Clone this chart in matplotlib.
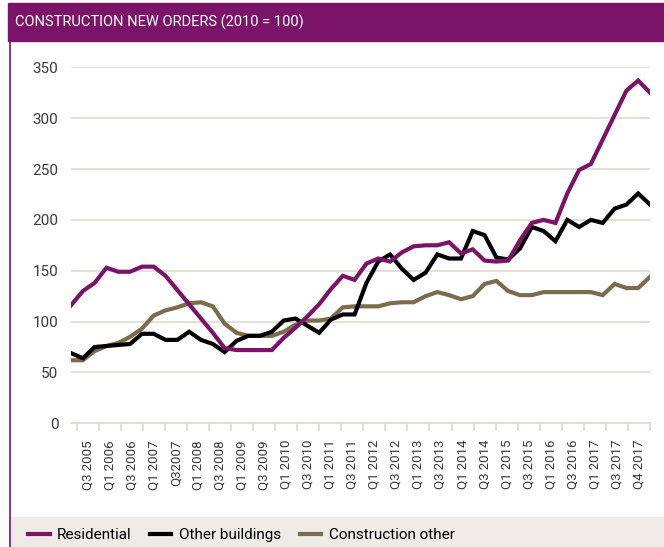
import numpy as np
import matplotlib
matplotlib.use("Agg")
import matplotlib.pyplot as plt
from matplotlib.patches import Rectangle
from matplotlib.lines import Line2D

plt.rcParams['font.family'] = ['Roboto', 'DejaVu Sans']

# quarterly index values, Q3 2005 .. Q4 2017
residential = [116, 130, 138, 153, 149, 149, 154, 154, 145, 131,
               117, 103, 89, 74, 72, 72, 72, 72, 84, 94,
               105, 117, 132, 145, 141, 157, 162, 159, 168, 174,
               175, 175, 178, 167, 171, 160, 159, 160, 180, 197,
               200, 197, 226, 249, 255, 279, 303, 327, 337, 325]
other_buildings = [69, 64, 75, 76, 77, 78, 88, 88, 82, 82,
                   90, 82, 78, 70, 81, 86, 86, 90, 101, 103,
                   96, 89, 102, 107, 107, 138, 159, 166, 152, 141,
                   148, 166, 162, 162, 189, 185, 163, 161, 172, 193,
                   189, 179, 200, 193, 200, 197, 211, 215, 226, 215]
construction_other = [62, 62, 71, 76, 79, 85, 93, 106, 111, 114,
                      118, 119, 115, 98, 89, 86, 86, 86, 90, 97,
                      101, 101, 103, 114, 115, 115, 115, 118, 119, 119,
                      125, 129, 126, 122, 125, 137, 140, 130, 126, 126,
                      129, 129, 129, 129, 129, 126, 137, 133, 133, 144]

tick_labels = ["Q3 2005", "Q1 2006", "Q3 2006", "Q1 2007", "Q32007", "Q1 2008",
               "Q3 2008", "Q1 2009", "Q3 2009", "Q1 2010", "Q3 2010", "Q1 2011",
               "Q3 2011", "Q1 2012", "Q3 2012", "Q1 2013", "Q3 2013", "Q1 2014",
               "Q3 2014", "Q1 2015", "Q3 2015", "Q1 2016", "Q3 2016", "Q1 2017",
               "Q3 2017", "Q4 2017"]

PURPLE = '#7b1468'
BROWN = '#7a6c4c'
GRID = '#e3ddd3'
BEIGE = '#efebe6'

fig = plt.figure(figsize=(6.64, 5.47), dpi=100)

# title band, left border, legend band
fig.patches.append(Rectangle((8 / 664, 1 - 41 / 547), 1, 38 / 547, transform=fig.transFigure,
                             color=PURPLE, zorder=0))
fig.patches.append(Rectangle((9 / 664, 0), 1, 30 / 547, transform=fig.transFigure,
                             color=BEIGE, zorder=0))
fig.lines.append(Line2D([9.5 / 664, 9.5 / 664], [0, 1 - 41 / 547], transform=fig.transFigure,
                        color=PURPLE, lw=1.2))
fig.text(15 / 664, 1 - 22 / 547, "CONSTRUCTION NEW ORDERS (2010 = 100)", color='white',
         fontsize=10.5, va='center', ha='left')

ax = fig.add_axes([71 / 664, 1 - 423.3 / 547, 579 / 664, 356 / 547])
x = np.arange(len(residential))
ax.plot(x, construction_other, color=BROWN, lw=3, zorder=2, label='Construction other',
        solid_joinstyle='miter')
ax.plot(x, other_buildings, color='black', lw=3, zorder=3, label='Other buildings',
        solid_joinstyle='miter')
ax.plot(x, residential, color=PURPLE, lw=3, zorder=4, label='Residential',
        solid_joinstyle='miter')

ax.set_xlim(0, len(x) - 1)
ax.set_ylim(0, 350)
ax.set_yticks(np.arange(0, 351, 50))
ax.grid(axis='y', color=GRID, lw=1.3)
ax.set_axisbelow(True)
for s in ['top', 'right', 'left']:
    ax.spines[s].set_visible(False)
ax.spines['bottom'].set_color(GRID)
ax.spines['bottom'].set_linewidth(1.3)

# tick marks between labels, labels centred in each interval
edges = np.linspace(0.48, len(x) - 1, len(tick_labels) + 1)
mids = (edges[:-1] + edges[1:]) / 2
ax.set_xticks(edges, minor=True)
ax.set_xticks(mids)
ax.set_xticklabels(tick_labels, rotation=90, fontsize=9.5, color='#3a3a3a')
ax.tick_params(axis='x', which='major', length=0, pad=12)
ax.tick_params(axis='x', which='minor', length=6, width=1.3, color=GRID)
ax.tick_params(axis='y', length=0, pad=9, labelsize=11, labelcolor='#3a3a3a')

handles, labels = ax.get_legend_handles_labels()
fig.legend(handles[::-1], labels[::-1], loc='center left', bbox_to_anchor=(22 / 664, 12 / 547),
           ncol=3, frameon=False, fontsize=11, handlelength=1.4, handletextpad=0.5,
           columnspacing=1.2, borderaxespad=0)

fig.savefig('out.png', dpi=100)
